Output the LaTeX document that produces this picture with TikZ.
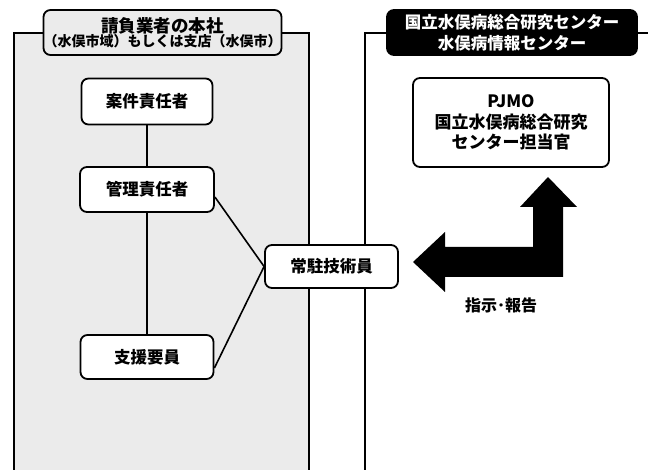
\documentclass[tikz,border=0pt]{standalone}
\usepackage{fontspec}
\setmainfont{Noto Sans CJK JP}
\usetikzlibrary{calc}
\tikzset{
  panel/.style={line width=2pt, draw=black},
  speckle/.style={fill=black!8},
  box/.style={draw=black, line width=1.8pt, rounded corners=7pt, fill=white,
    minimum width=#1, inner sep=0pt, font=\fontsize{16.5}{20}\selectfont\bfseries, align=center},
  link/.style={line width=1.6pt, draw=black},
}
\begin{document}
\begin{tikzpicture}[x=1pt,y=-1pt]
\useasboundingbox (0,0) rectangle (648,470);
% left panel
\fill[speckle] (14,33) rectangle (309,480);
\draw[panel] (14,480) -- (14,33) -- (309,33) -- (309,480);
% right panel
\draw[panel] (660,33) -- (365,33) -- (365,480);
% headers
\node[draw=black, line width=1.8pt, rounded corners=7pt, speckle, minimum width=229pt, minimum height=45pt, inner sep=0pt, align=center]
  (hdrL) at (162.5,32.5) {{\fontsize{17.5}{22}\selectfont\bfseries 請負業者の本社}\\[-1pt]{\fontsize{14}{17}\selectfont\bfseries （水俣市域）もしくは支店（水俣市）}};
\node[draw=black, line width=1.8pt, rounded corners=7pt, fill=black, text=white, minimum width=250pt, minimum height=45pt, inner sep=0pt, align=center,
  font=\fontsize{16.5}{21}\selectfont\bfseries]
  (hdrR) at (512,32.5) {国立水俣病総合研究センター\\水俣病情報センター};
% boxes
\node[box=131pt, minimum height=46pt] (anken) at (147,101.5) {案件責任者};
\node[box=134pt, minimum height=45pt] (kanri) at (147,189.5) {管理責任者};
\node[box=133pt, minimum height=44pt] (shien) at (147,357) {支援要員};
\node[box=133pt, minimum height=43pt] (jochu) at (331.5,266.5) {常駐技術員};
\node[box=196pt, minimum height=89pt, font=\fontsize{17}{20.5}\selectfont\bfseries] (pjmo) at (511,122.5) {PJMO\\国立水俣病総合研究\\センター担当官};
% connectors
\draw[link] (anken.south) -- (kanri.north);
\draw[link] (kanri.south) -- (shien.north);
\draw[link] ($(kanri.east)+(0,7.5)$) -- (jochu.west);
\draw[link] ($(shien.east)+(0,11)$) -- (jochu.west);
% big arrow
\fill[black] (413,262) -- (445,232) -- (445,247) -- (533,247) -- (533,207) -- (520,207)
  -- (548,177) -- (577,207) -- (563,207) -- (563,277) -- (445,277) -- (445,292) -- cycle;
\node[font=\fontsize{16}{18}\selectfont\bfseries, inner sep=0pt] (lbl) at (501,305) {指示･報告};
\end{tikzpicture}
\end{document}
